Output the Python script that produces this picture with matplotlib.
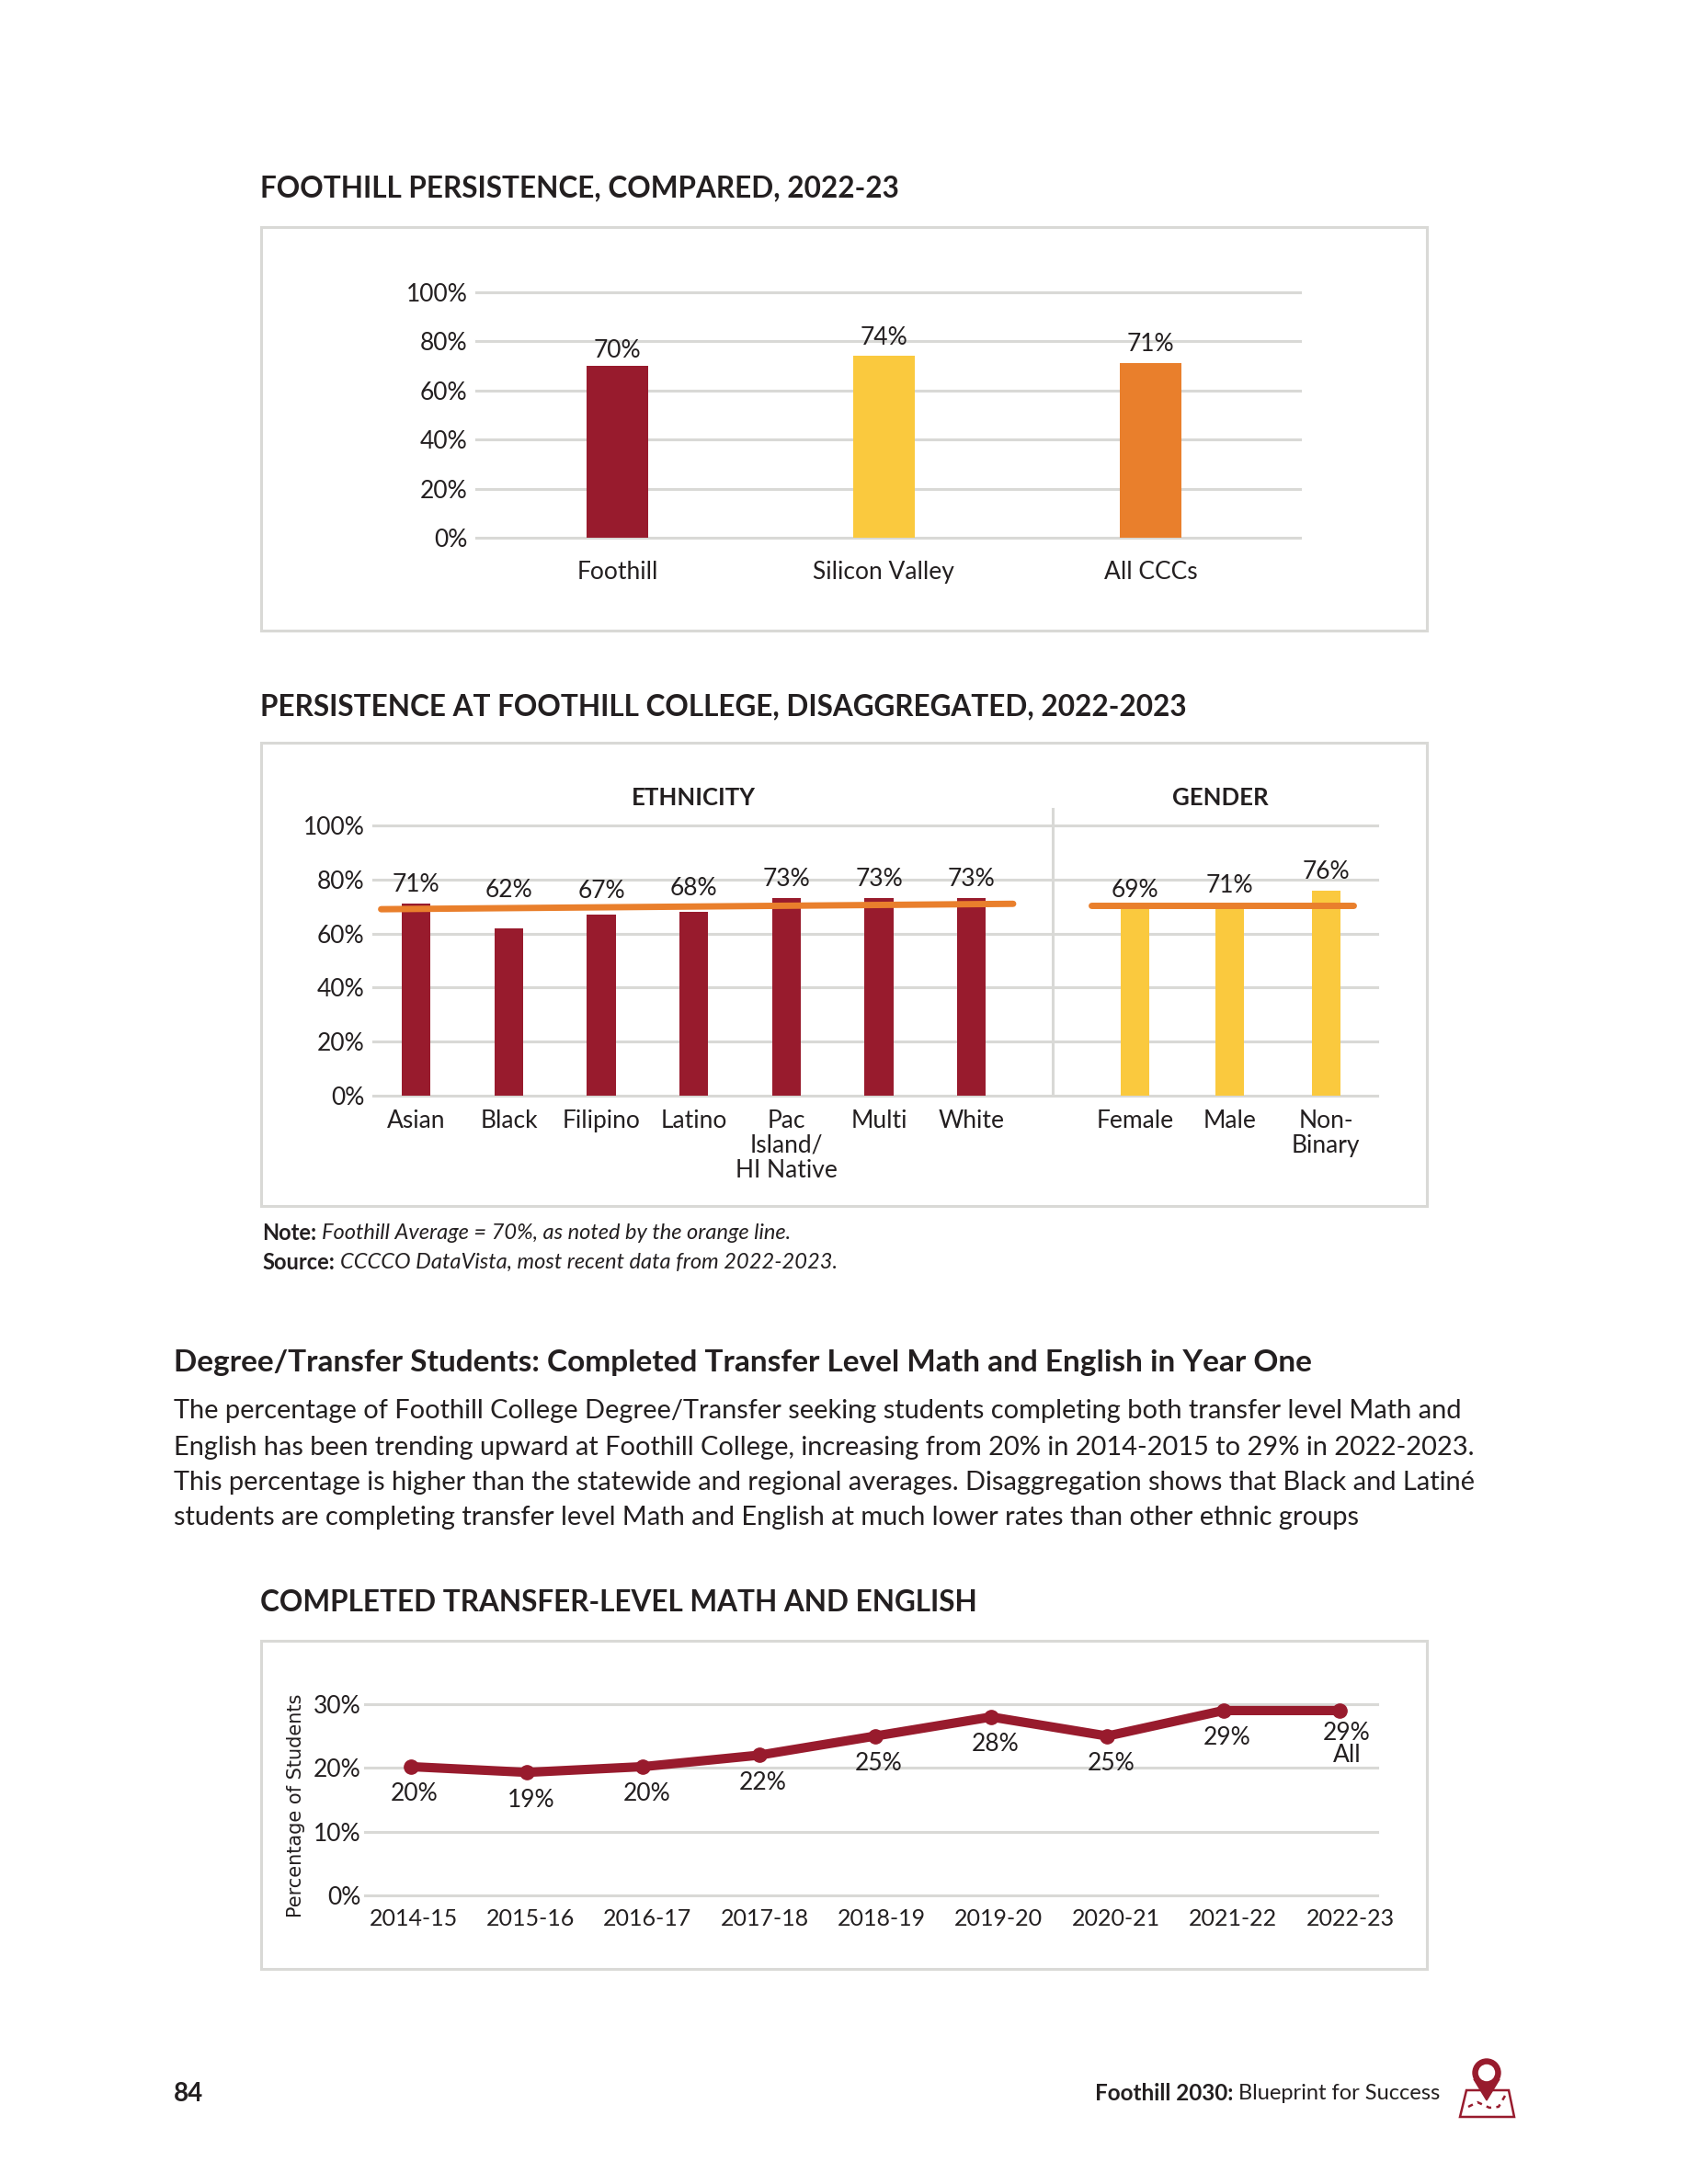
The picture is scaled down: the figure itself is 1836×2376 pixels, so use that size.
import matplotlib
matplotlib.use('Agg')
import matplotlib.pyplot as plt
from matplotlib.patches import Rectangle, Polygon, Circle

plt.rcParams['font.family'] = ['Lato', 'DejaVu Sans']

W, H = 1836, 2376

# data
compare_names = ['Foothill', 'Silicon Valley', 'All CCCs']
compare_vals = [70, 74, 71]

eth_names = ['Asian', 'Black', 'Filipino', 'Latino', 'Pac\nIsland/\nHI Native', 'Multi', 'White']
eth_vals = [71, 62, 67, 68, 73, 73, 73]
eth_avg = [69, 71]

gender_names = ['Female', 'Male', 'Non-\nBinary']
gender_vals = [69, 71, 76]
gender_avg = [70.5, 70.5]

years = ['2014-15', '2015-16', '2016-17', '2017-18', '2018-19', '2019-20', '2020-21', '2021-22', '2022-23']
transfer_vals = [20.2, 19.3, 20.2, 22, 25, 28, 25, 29, 29]
transfer_labels = ['20%', '19%', '20%', '22%', '25%', '28%', '25%', '29%', '29%\nAll']

body = [
    'The percentage of Foothill College Degree/Transfer seeking students completing both transfer level Math and',
    'English has been trending upward at Foothill College, increasing from 20% in 2014-2015 to 29% in 2022-2023.',
    'This percentage is higher than the statewide and regional averages. Disaggregation shows that Black and Latiné',
    'students are completing transfer level Math and English at much lower rates than other ethnic groups',
]

RED = '#981b2d'
YELLOW = '#fac93e'
ORANGE = '#e97f2c'
GRID = '#d9d9d6'
INK = '#231f20'
FS = 19

fig = plt.figure(figsize=(W / 100, H / 100), dpi=100, facecolor='white')

# whole page in pixels, for frames and loose text
page = fig.add_axes([0, 0, 1, 1])
page.set_xlim(0, W)
page.set_ylim(H, 0)
page.axis('off')


def axes_px(left, right, top, bottom):
    ax = fig.add_axes([left / W, 1 - bottom / H, (right - left) / W, (bottom - top) / H])
    ax.patch.set_alpha(0)
    for s in ax.spines.values():
        s.set_visible(False)
    ax.tick_params(length=0, labelsize=FS, labelcolor=INK)
    ax.yaxis.grid(True, color=GRID, lw=2.2, clip_on=False)
    for g in ax.get_ygridlines():
        g.set_clip_on(False)
    ax.set_axisbelow(True)
    return ax


def frame(top, bottom):
    page.add_patch(Rectangle((284, top), 1268, bottom - top, fc='none', ec=GRID, lw=2.2))


def ptext(x, y, s, size=FS, weight='normal', style='normal', ha='left'):
    page.text(x, y + 2.5, s, fontsize=size, fontweight=weight, fontstyle=style, ha=ha, va='center', color=INK)


def label_bars(ax, xs, vals, lifts):
    for x, v, d in zip(xs, vals, lifts):
        ax.annotate(f'{v}%', (x, v), xytext=(0, d), textcoords='offset pixels',
                    ha='center', va='center', fontsize=FS, color=INK, annotation_clip=False)


# chart 1
ptext(283, 202, 'FOOTHILL PERSISTENCE, COMPARED, 2022-23', size=22.7, weight='bold')
frame(247, 686)
ax1 = axes_px(518, 1414, 318, 585)
x1 = list(range(len(compare_vals)))
ax1.bar(x1, compare_vals, width=0.231, color=[RED, YELLOW, ORANGE])
ax1.set_xlim(-0.529, 2.561)
ax1.set_ylim(0, 100)
ax1.set_yticks([0, 20, 40, 60, 80, 100], ['0%', '20%', '40%', '60%', '80%', '100%'])
ax1.set_xticks(x1, compare_names)
ax1.tick_params(axis='x', pad=18)
ax1.tick_params(axis='y', pad=7)
label_bars(ax1, x1, compare_vals, [17, 20, 21])

# chart 2
ptext(283, 766, 'PERSISTENCE AT FOOTHILL COLLEGE, DISAGGREGATED, 2022-2023', size=22.7, weight='bold')
frame(808, 1312)
ax2 = axes_px(406, 1498, 898, 1192)
ax2.set_xlim(-0.465, 10.385)
ax2.set_ylim(0, 100)
x_eth = list(range(7))
x_gen = [7.77, 8.79, 9.83]
ax2.bar(x_eth, eth_vals, width=0.31, color=RED)
ax2.bar(x_gen, gender_vals, width=0.31, color=YELLOW)
ax2.plot([-0.38, 6.45], eth_avg, color=ORANGE, lw=5, solid_capstyle='round')
ax2.plot([7.29, 10.13], gender_avg, color=ORANGE, lw=5, solid_capstyle='round')
ax2.plot([6.88, 6.88], [0, 106], color=GRID, lw=2.2, clip_on=False)
ax2.set_yticks([0, 20, 40, 60, 80, 100], ['0%', '20%', '40%', '60%', '80%', '100%'])
ax2.set_xticks(x_eth + x_gen, eth_names + gender_names, linespacing=1.12)
ax2.tick_params(axis='x', pad=10.5)
ax2.tick_params(axis='y', pad=7)
label_bars(ax2, x_eth, eth_vals, [21, 41, 26, 26, 21, 21, 21])
label_bars(ax2, x_gen, gender_vals, [21, 20, 20])
ptext(754, 866, 'ETHNICITY', size=18.5, weight='bold', ha='center')
ptext(1327, 866, 'GENDER', size=18.5, weight='bold', ha='center')

ptext(285, 1339, 'Note:', size=17, weight='bold')
ptext(350, 1339, 'Foothill Average = 70%, as noted by the orange line.', size=17, style='italic')
ptext(285, 1371, 'Source:', size=17, weight='bold')
ptext(370, 1371, 'CCCCO DataVista, most recent data from 2022-2023.', size=17, style='italic')

# middle text
ptext(189, 1480, 'Degree/Transfer Students: Completed Transfer Level Math and English in Year One', size=24, weight='bold')
for yy, line in zip([1533, 1572, 1610, 1649], body):
    ptext(189, yy, line, size=20.9)

# chart 3
ptext(283, 1741, 'COMPLETED TRANSFER-LEVEL MATH AND ENGLISH', size=22.7, weight='bold')
frame(1785, 2142)
ax3 = axes_px(397, 1498, 1854, 2062)
x3 = list(range(len(years)))
ax3.plot(x3, transfer_vals, color=RED, lw=7.3, marker='o', ms=11, clip_on=False)
ax3.set_xlim(-0.396, 8.325)
ax3.set_ylim(0, 30)
ax3.set_yticks([0, 10, 20, 30], ['0%', '10%', '20%', '30%'])
# the labels sit a little wider apart than the points
ax3.set_xticks([i * 1.009 + 0.02 for i in x3], years, fontsize=18)
ax3.tick_params(axis='x', pad=10)
ax3.tick_params(axis='y', pad=3.5)
ax3.set_ylabel('Percentage of Students', fontsize=15, color=INK, family='DejaVu Sans', labelpad=6, y=0.47)
for x, v, s in zip(x3, transfer_vals, transfer_labels):
    if '\n' in s:
        ax3.annotate(s, (x, v), xytext=(8, -12), textcoords='offset pixels', ha='center', va='top',
                     fontsize=FS, color=INK, linespacing=0.95, annotation_clip=False)
    else:
        ax3.annotate(s, (x, v), xytext=(4, -30), textcoords='offset pixels', ha='center', va='center',
                     fontsize=FS, color=INK, annotation_clip=False)

# footer
ptext(189, 2275, '84', size=20, weight='bold')
ptext(1191, 2275, 'Foothill 2030:', size=17.5, weight='bold')
ptext(1347, 2275, 'Blueprint for Success', size=17)

# map pin icon
page.add_patch(Polygon([(1595, 2274), (1641, 2274), (1647, 2303), (1588, 2303)], closed=True, fc='none', ec=RED, lw=1.8))
page.plot([1597, 1607, 1620, 1630, 1637], [2292, 2287, 2293, 2292, 2280], color=RED, lw=1.8, ls=(0, (2.2, 2.2)))
page.add_patch(Polygon([(1603, 2262), (1631, 2262), (1617, 2285)], closed=True, fc=RED, ec=RED))
page.add_patch(Circle((1617, 2255), 15, fc=RED, ec=RED))
page.add_patch(Circle((1617, 2255), 8.5, fc='white', ec='white'))

fig.savefig('out.png', dpi=100)
